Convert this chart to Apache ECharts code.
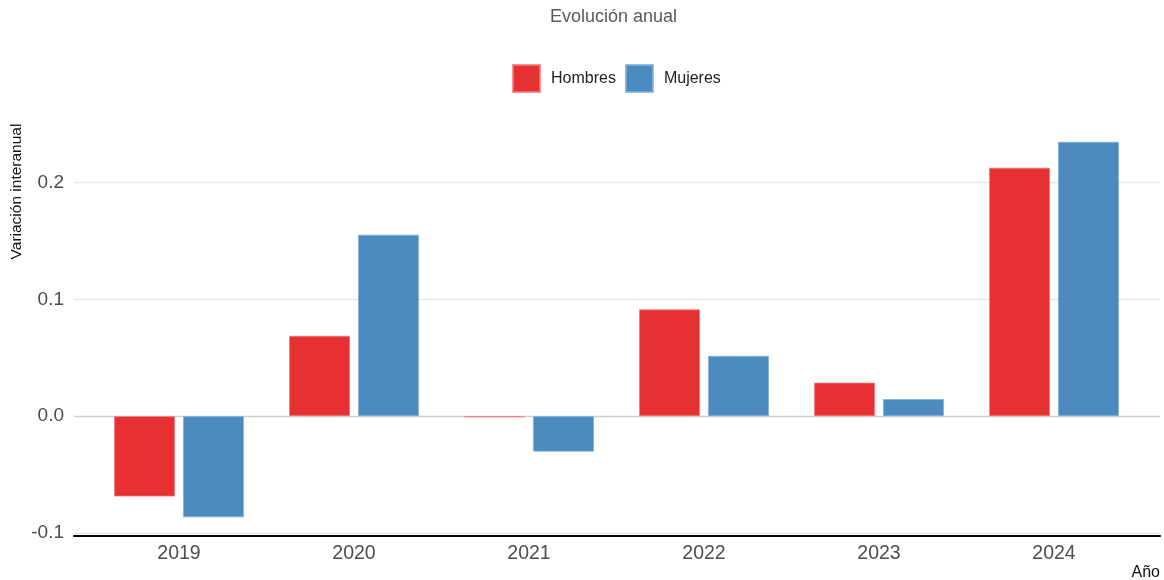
<!DOCTYPE html>
<html>
<head>
<meta charset="utf-8">
<script src="https://cdn.jsdelivr.net/npm/echarts@6/dist/echarts.min.js"></script>
<style>
html,body{margin:0;padding:0;background:#fff;}
#chart{width:1164px;height:580px;}
</style>
</head>
<body>
<div id="chart"></div>
<script>
const categories = ['2019', '2020', '2021', '2022', '2023', '2024'];
const hombres = [-0.0688, 0.0688, -0.001, 0.0914, 0.0287, 0.2126];
const mujeres = [-0.0866, 0.1553, -0.0304, 0.0516, 0.0146, 0.2348];
const seriesNames = ['Hombres', 'Mujeres'];
const yTicks = { min: -0.1, max: 0.25, interval: 0.1 };

const FONT = '"Liberation Sans", Arial, sans-serif';
const RED = 'rgba(228,26,28,0.9)';
const BLUE = 'rgba(55,126,184,0.9)';

const chart = echarts.init(document.getElementById('chart'), null, { renderer: 'canvas' });
chart.setOption({
  animation: false,
  textStyle: { fontFamily: FONT },
  title: {
    text: 'Evolución anual',
    left: 550, top: 8, padding: 0,
    textStyle: { fontFamily: FONT, fontSize: 18, fontWeight: 'normal', color: '#595959' }
  },
  legend: {
    data: seriesNames,
    left: 512, top: 64, padding: 0,
    icon: 'rect', itemWidth: 27, itemHeight: 27, itemGap: 9,
    textStyle: { fontFamily: FONT, fontSize: 16, color: '#222', padding: [0, 0, 0, 6] }
  },
  grid: [
    { left: 74, right: 4, top: 124, bottom: 47 },
    { left: 91.5, right: 22.5, top: 124, bottom: 47 }
  ],
  xAxis: [
    {
      type: 'value', gridIndex: 0, min: 0, max: 1, offset: 2.5,
      axisLine: { show: true, onZero: false, lineStyle: { color: '#000', width: 2 } },
      axisTick: { show: false }, axisLabel: { show: false }, splitLine: { show: false }
    },
    {
      type: 'category', gridIndex: 1, data: categories,
      axisLine: { show: false }, axisTick: { show: false },
      axisLabel: { fontFamily: FONT, fontSize: 19.5, color: '#4d4d4d', margin: 11 },
      splitLine: { show: false }
    }
  ],
  yAxis: [
    {
      type: 'value', gridIndex: 0, min: yTicks.min, max: yTicks.max, interval: yTicks.interval,
      axisLine: { show: false }, axisTick: { show: false },
      axisLabel: {
        fontFamily: FONT, fontSize: 19, color: '#4d4d4d', margin: 10,
        showMaxLabel: false,
        formatter: function (v) { return Math.abs(v - yTicks.max) < 1e-9 ? '' : v.toFixed(1); }
      },
      splitLine: {
        show: true, showMaxLine: false,
        lineStyle: { color: ['#e6e6e6', '#cfcfcf', '#e6e6e6', '#e6e6e6', 'rgba(0,0,0,0)'], width: 1.3 }
      }
    },
    {
      type: 'value', gridIndex: 1, min: yTicks.min, max: yTicks.max, interval: yTicks.interval,
      show: false, splitLine: { show: false }
    }
  ],
  graphic: [
    {
      type: 'text', x: 17, y: 191.5, rotation: Math.PI / 2,
      style: { text: 'Variación interanual', font: '15.5px ' + FONT, fill: '#111', textAlign: 'center', textVerticalAlign: 'middle' }
    },
    {
      type: 'text', x: 1160, y: 573,
      style: { text: 'Año', font: '16px ' + FONT, fill: '#111', textAlign: 'right', textVerticalAlign: 'middle' }
    }
  ],
  series: [
    {
      name: seriesNames[0], type: 'bar', xAxisIndex: 1, yAxisIndex: 1,
      data: hombres, barWidth: 61, barGap: '13%',
      itemStyle: { color: RED, borderColor: 'rgba(240,120,125,0.8)', borderWidth: 1 }
    },
    {
      name: seriesNames[1], type: 'bar', xAxisIndex: 1, yAxisIndex: 1,
      data: mujeres, barWidth: 61, barGap: '13%',
      itemStyle: { color: BLUE, borderColor: 'rgba(130,175,215,0.8)', borderWidth: 1 }
    }
  ]
});
</script>
</body>
</html>
